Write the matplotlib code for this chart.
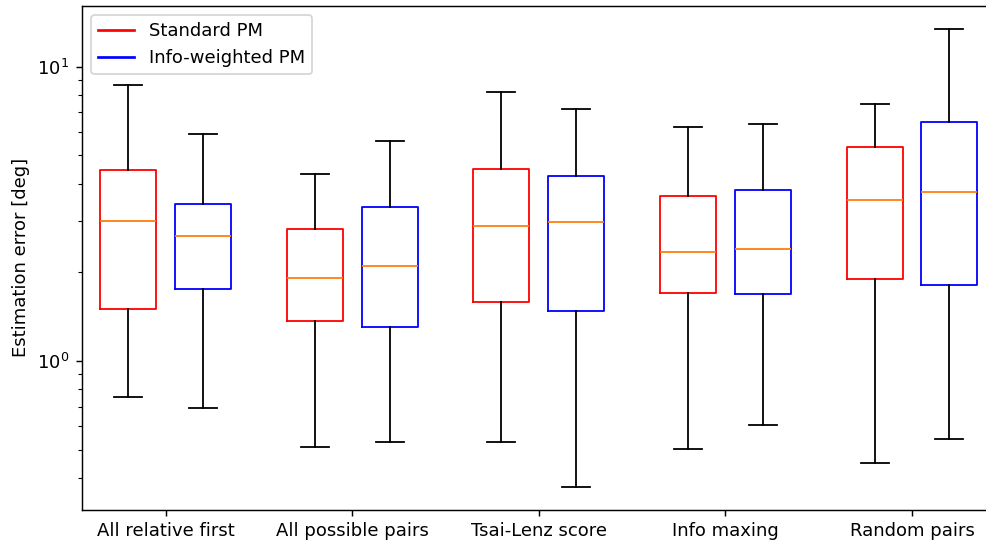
import matplotlib
matplotlib.use("Agg")
import matplotlib.pyplot as plt
from matplotlib.lines import Line2D

# categories and box statistics (log scale, degrees)
categories = ['All relative first', 'All possible pairs', 'Tsai-Lenz score', 'Info maxing', 'Random pairs']

# Standard PM
std_low = [0.757, 0.508, 0.529, 0.503, 0.450]
std_q1 = [1.505, 1.369, 1.585, 1.70, 1.896]
std_med = [2.995, 1.916, 2.884, 2.35, 3.52]
std_q3 = [4.45, 2.82, 4.50, 3.63, 5.35]
std_high = [8.69, 4.31, 8.20, 6.24, 7.50]

# Info-weighted PM
info_low = [0.690, 0.532, 0.374, 0.607, 0.545]
info_q1 = [1.757, 1.304, 1.477, 1.69, 1.815]
info_med = [2.67, 2.107, 2.96, 2.41, 3.74]
info_q3 = [3.41, 3.35, 4.24, 3.82, 6.47]
info_high = [5.90, 5.60, 7.17, 6.38, 13.47]


def make_stats(low, q1, med, q3, high):
    stats = []
    for i in range(len(med)):
        stats.append({'whislo': low[i], 'q1': q1[i], 'med': med[i],
                      'q3': q3[i], 'whishi': high[i], 'fliers': []})
    return stats


# the original looks like a 130 dpi render, so scale the figure to match
dpi = 130
fig = plt.figure(figsize=(986 / dpi, 544 / dpi), dpi=dpi)
ax = fig.add_axes([0.0832, 0.0634, 0.9265, 0.9258])

x = range(1, len(categories) + 1)
pos_std = [i - 0.2 for i in x]
pos_info = [i + 0.2 for i in x]

ax.bxp(make_stats(std_low, std_q1, std_med, std_q3, std_high), positions=pos_std,
       widths=0.3, manage_ticks=False, boxprops=dict(color='red'),
       medianprops=dict(color='C1'))
ax.bxp(make_stats(info_low, info_q1, info_med, info_q3, info_high), positions=pos_info,
       widths=0.3, manage_ticks=False, boxprops=dict(color='blue'),
       medianprops=dict(color='C1'))

ax.set_yscale('log')
ax.set_xticks(list(x))
ax.set_xticklabels(categories)
ax.set_xlim(0.552, 5.448)
ax.set_ylabel('Estimation error [deg]')

handles = [Line2D([], [], color='red', lw=1.5), Line2D([], [], color='blue', lw=1.5)]
ax.legend(handles, ['Standard PM', 'Info-weighted PM'], loc='upper left')

fig.savefig('out.png', dpi=dpi)
